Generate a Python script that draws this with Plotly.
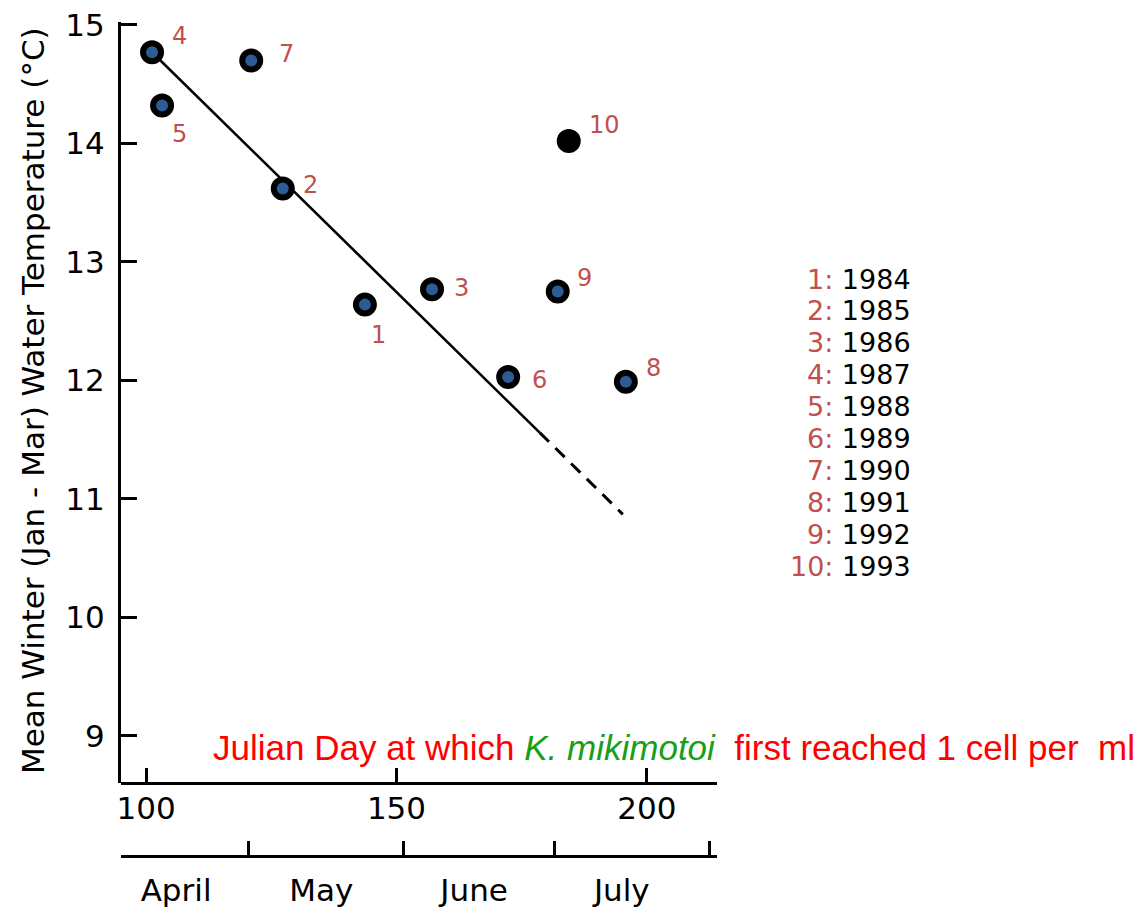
import plotly.graph_objects as go

# ---- data ----
point_ids = [1, 2, 3, 4, 5, 6, 7, 8, 9, 10]
years = [1984, 1985, 1986, 1987, 1988, 1989, 1990, 1991, 1992, 1993]
julian_day = [143.7, 127.3, 157.1, 101.2, 103.2, 172.3, 121.0, 195.8, 182.2, 184.4]
winter_temp = [12.64, 13.62, 12.77, 14.77, 14.32, 12.03, 14.70, 11.99, 12.75, 14.02]
# regression line (solid part then dashed extrapolation)
trend_solid_x = [101.2, 178.6]
trend_solid_y = [14.77, 11.56]
trend_dash_x = [178.6, 195.2]
trend_dash_y = [11.56, 10.87]
y_ticks = [9, 10, 11, 12, 13, 14, 15]
x_ticks = [100, 150, 200]
month_bounds = [120.5, 151.5, 181.5, 212.5]
month_label_pos = [106, 135, 165.5, 195]
month_names = ["April", "May", "June", "July"]

# ---- styling helpers (pixel geometry) ----
W, H = 1144, 908
L, R, T, B = 121, 717, 22, 856
def px_x(px):
    return (px - L) / (R - L)
def px_y(py):
    return (B - py) / (B - T)

label_color = "#c0504d"
axis_font = dict(family="DejaVu Sans", size=31, color="black")

# label offsets (pixels) relative to each point, per point id
label_dx = {1: 14, 2: 28, 3: 29, 4: 27, 5: 17, 6: 31, 7: 35, 8: 28, 9: 27, 10: 36}
label_dy = {1: -30, 2: 3, 3: 1, 4: 16, 5: -28, 6: -3, 7: 7, 8: 14, 9: 14, 10: 16}

fig = go.Figure()

fig.add_trace(go.Scatter(x=trend_solid_x, y=trend_solid_y, mode="lines",
                         line=dict(color="black", width=2.6), showlegend=False))
fig.add_trace(go.Scatter(x=trend_dash_x, y=trend_dash_y, mode="lines",
                         line=dict(color="black", width=3, dash="13px,9px"), showlegend=False))

ring_x = [x for x, i in zip(julian_day, point_ids) if i != 10]
ring_y = [y for y, i in zip(winter_temp, point_ids) if i != 10]
solid_x = [x for x, i in zip(julian_day, point_ids) if i == 10]
solid_y = [y for y, i in zip(winter_temp, point_ids) if i == 10]

fig.add_trace(go.Scatter(x=ring_x, y=ring_y, mode="markers",
                         marker=dict(size=18, color="#2b5d94",
                                     line=dict(color="black", width=6)),
                         showlegend=False, cliponaxis=False))
fig.add_trace(go.Scatter(x=solid_x, y=solid_y, mode="markers",
                         marker=dict(size=24, color="black", line=dict(width=0)),
                         showlegend=False, cliponaxis=False))
# dummy trace to activate the month axis
fig.add_trace(go.Scatter(x=[None], y=[None], xaxis="x2", yaxis="y", showlegend=False))

annotations = []
for i, x, y in zip(point_ids, julian_day, winter_temp):
    annotations.append(dict(x=x, y=y, xref="x", yref="y", text=str(i), showarrow=False,
                            xshift=label_dx[i], yshift=label_dy[i],
                            font=dict(family="DejaVu Sans", size=24, color=label_color),
                            xanchor="center", yanchor="middle"))

# year key
for k, (i, yr) in enumerate(zip(point_ids, years)):
    annotations.append(dict(x=px_x(913), y=px_y(279 + 31.9 * k), xref="paper", yref="paper",
                            text=f"<span style='color:{label_color}'>{i}:</span> {yr}",
                            showarrow=False, xanchor="right", yanchor="middle",
                            font=dict(family="DejaVu Sans", size=27, color="black")))

# x-axis title inside plot
annotations.append(dict(x=px_x(211), y=px_y(747), xref="paper", yref="paper",
                        text="Julian Day at which <i><span style='color:#16a016'>K. mikimotoi</span></i>  first reached 1 cell per  ml",
                        showarrow=False, xanchor="left", yanchor="middle",
                        font=dict(family="Liberation Sans", size=35, color="#ff0000")))

# y-axis title
annotations.append(dict(x=px_x(33), y=px_y(401), xref="paper", yref="paper",
                        text="Mean Winter (Jan - Mar) Water Temperature (°C)",
                        textangle=-90, showarrow=False, xanchor="center", yanchor="middle",
                        font=dict(family="DejaVu Sans", size=31, color="black")))

y_bottom_frac = px_y(783)
fig.update_layout(
    width=W, height=H,
    margin=dict(l=L, r=W - R, t=T, b=H - B, pad=0, autoexpand=False),
    paper_bgcolor="white", plot_bgcolor="white",
    showlegend=False,
    xaxis=dict(range=[95.0, 214.0], tickvals=x_ticks, ticks="inside", ticklen=14, tickwidth=3,
               tickcolor="black", showline=True, linecolor="black", linewidth=3,
               showgrid=False, zeroline=False, anchor="free", position=y_bottom_frac,
               tickfont=axis_font, ticklabelstandoff=-3, automargin=False),
    xaxis2=dict(range=[95.0, 214.0], overlaying="x", anchor="free", position=0, side="bottom",
                tickvals=month_label_pos, ticktext=month_names, ticks="",
                showline=True, linecolor="black", linewidth=3, showgrid=False, zeroline=False,
                tickfont=axis_font, ticklabelstandoff=6, automargin=False,
                minor=dict(tickmode="array", tickvals=month_bounds, ticks="inside",
                           ticklen=14, tickwidth=3, tickcolor="black", showgrid=False)),
    yaxis=dict(range=[8.603, 15.025], domain=[y_bottom_frac, 1], tickvals=y_ticks,
               ticks="inside", ticklen=16, tickwidth=3, tickcolor="black",
               showline=True, linecolor="black", linewidth=3, showgrid=False, zeroline=False,
               tickfont=axis_font, ticklabelstandoff=7, automargin=False),
    annotations=annotations,
)

fig.write_html("out.html")
